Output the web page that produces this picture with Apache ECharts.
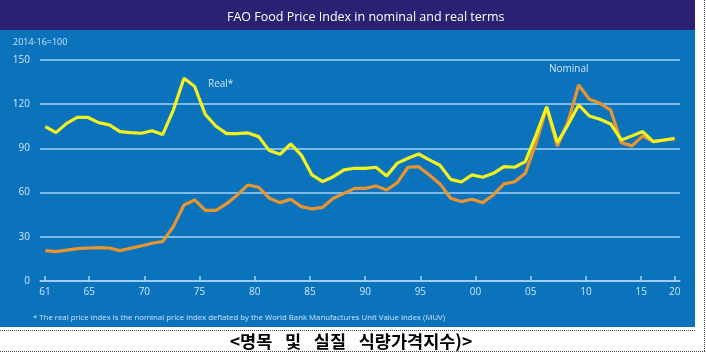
<!DOCTYPE html>
<html>
<head>
<meta charset="utf-8">
<style>
  html, body { margin: 0; padding: 0; background: #fff; }
  #main { width: 706px; height: 353px; }
</style>
<script src="https://cdn.jsdelivr.net/npm/echarts@6/dist/echarts.min.js"></script>
</head>
<body>
<div id="main"></div>
<script>
var years = [1961, 1962, 1963, 1964, 1965, 1966, 1967, 1968, 1969, 1970,
             1971, 1972, 1973, 1974, 1975, 1976, 1977, 1978, 1979, 1980,
             1981, 1982, 1983, 1984, 1985, 1986, 1987, 1988, 1989, 1990,
             1991, 1992, 1993, 1994, 1995, 1996, 1997, 1998, 1999, 2000,
             2001, 2002, 2003, 2004, 2005, 2006, 2007, 2008, 2009, 2010,
             2011, 2012, 2013, 2014, 2015, 2016, 2017, 2018, 2019, 2020];

var realIdx = [104.8, 100.7, 107, 111, 111, 107.5, 106, 101.4, 100.7, 100.3,
               102, 99.4, 116, 137.6, 132, 113, 105, 100, 100, 100.5,
               98, 88.5, 86, 93, 85.5, 72, 67.5, 70.8, 75.4, 76.5,
               76.5, 77.2, 71.3, 80, 83.3, 86.2, 82.2, 78.6, 69, 67.2,
               72, 70.4, 73.1, 77.6, 77.2, 81, 99, 118.3, 94, 106,
               119.5, 112, 109.8, 106.6, 95.7, 98.5, 101.4, 94.6, 95.7, 96.9];

var nominalIdx = [20.6, 19.9, 21, 22, 22.4, 22.6, 22.4, 20.6, 22.2, 23.8,
                  25.6, 26.8, 36.9, 51.6, 55, 47.9, 48, 52.5, 58.4, 65.2,
                  63.6, 56.2, 53.2, 55.5, 50.5, 48.9, 50, 56.2, 59.5, 62.9,
                  62.9, 64.5, 61.8, 66.8, 77.2, 77.6, 72, 65.9, 56.2, 53.9,
                  55.5, 53.2, 58.4, 65.9, 67.4, 73.1, 93.5, 117.5, 91.5, 108,
                  133, 123.4, 120.6, 116, 93.9, 91.7, 98.5, 94.6, 95.7, 96.2];

// x tick labels; the original spaces 61..15 a little wider than the data,
// and puts 20 at the real end of the line
var tickYears = [1961, 1965, 1970, 1975, 1980, 1985, 1990, 1995, 2000, 2005, 2010, 2015];
var lastTick = [2020];
var yTicks = [0, 30, 60, 90, 120, 150];

var TXT = '#cfe5f7';
var GRIDLINE = '#a6d3f4';
var FONT = '"Open Sans", "Noto Sans", sans-serif';

function shortYear(v) {
    return String(Math.round(v)).slice(-2);
}
function pairs(ys) {
    return years.map(function (y, i) { return [y, ys[i]]; });
}

var chart = echarts.init(document.getElementById('main'), null, {renderer: 'canvas'});

chart.setOption({
    backgroundColor: '#ffffff',
    animation: false,
    title: {
        text: 'FAO Food Price Index in nominal and real terms',
        left: 222, top: 6,
        textStyle: {color: '#ffffff', fontFamily: FONT, fontSize: 12.5, fontWeight: 'normal'}
    },
    grid: {left: 40, right: 26, top: 60, bottom: 72},
    xAxis: [{
        type: 'value', min: 1960.5, max: 2020.5, position: 'bottom',
        splitLine: {show: false},
        axisLine: {show: true, lineStyle: {color: GRIDLINE, width: 1.5}},
        axisTick: {show: true, inside: true, length: 5, customValues: lastTick,
                   lineStyle: {color: GRIDLINE, width: 1.5}},
        axisLabel: {show: true, customValues: lastTick, formatter: shortYear, margin: 6,
                    color: TXT, fontFamily: FONT, fontSize: 10}
    }, {
        type: 'value', min: 1960.547, max: 2018.52, position: 'bottom',
        splitLine: {show: false},
        axisLine: {show: false},
        axisTick: {show: true, inside: true, length: 5, customValues: tickYears,
                   lineStyle: {color: GRIDLINE, width: 1.5}},
        axisLabel: {show: true, customValues: tickYears, formatter: shortYear, margin: 6,
                    color: TXT, fontFamily: FONT, fontSize: 10}
    }],
    yAxis: {
        type: 'value', min: 0, max: 150, interval: 30,
        name: '2014-16=100', nameLocation: 'end', nameGap: 13,
        nameTextStyle: {color: TXT, fontFamily: FONT, fontSize: 9, align: 'left', padding: [0, 0, 0, -27]},
        axisLine: {show: false}, axisTick: {show: false},
        axisLabel: {color: TXT, fontFamily: FONT, fontSize: 10, margin: 10,
                    customValues: yTicks},
        splitLine: {lineStyle: {color: GRIDLINE, width: 1.5}}
    },
    series: [{
        name: 'Nominal', type: 'line', xAxisIndex: 0,
        data: pairs(nominalIdx), showSymbol: false,
        lineStyle: {color: '#e9952f', width: 3.2}, z: 3
    }, {
        name: 'Real*', type: 'line', xAxisIndex: 0,
        data: pairs(realIdx), showSymbol: false,
        lineStyle: {color: '#f3f21c', width: 3.2}, z: 4
    }],
    graphic: [
        {type: 'rect', z: -20, shape: {x: 0, y: 0, width: 695, height: 30}, style: {fill: '#2a2172'}},
        {type: 'rect', z: -20, shape: {x: 0, y: 30, width: 695, height: 297}, style: {fill: '#0b72bc'}},
        {type: 'text', z: 50, left: 208, top: 79,
         style: {text: 'Real*', fill: TXT, font: '10px ' + FONT}},
        {type: 'text', z: 50, left: 549, top: 64,
         style: {text: 'Nominal', fill: TXT, font: '10px ' + FONT}},
        {type: 'text', z: 50, left: 33, top: 314,
         style: {text: '* The real price index is the nominal price index deflated by the World Bank Manufactures Unit Value Index (MUV)',
                 fill: TXT, font: '7.8px ' + FONT}},
        {type: 'line', z: 50, shape: {x1: 0, y1: 330.5, x2: 695, y2: 330.5},
         style: {stroke: '#444', lineWidth: 1, lineDash: [1, 1]}},
        {type: 'line', z: 50, shape: {x1: 0, y1: 351.5, x2: 706, y2: 351.5},
         style: {stroke: '#444', lineWidth: 1, lineDash: [1, 1]}},
        {type: 'line', z: 50, shape: {x1: 704.5, y1: 0, x2: 704.5, y2: 352},
         style: {stroke: '#444', lineWidth: 1, lineDash: [1, 1]}},
        {type: 'text', z: 50, x: 351, y: 341,
         style: {text: '<명목\u2002 및\u2002 실질\u2002 식량가격지수)>', fill: '#000',
                 font: 'bold 17.5px "Noto Sans CJK KR", sans-serif',
                 align: 'center', verticalAlign: 'middle'}}
    ]
});
</script>
</body>
</html>
